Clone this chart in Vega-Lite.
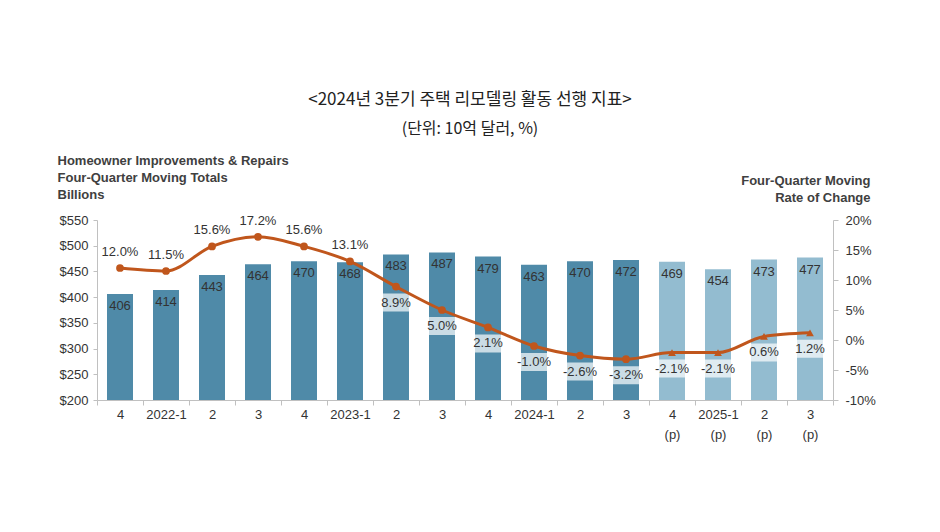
{
  "$schema": "https://vega.github.io/schema/vega-lite/v6.json",
  "width": 736,
  "height": 180,
  "autosize": {"type": "none"},
  "padding": {"left": 97, "top": 220, "right": 107, "bottom": 132},
  "background": "white",
  "title": {
    "text": "<2024년 3분기 주택 리모델링 활동 선행 지표>",
    "subtitle": "(단위: 10억 달러, %)",
    "anchor": "middle",
    "frame": "group",
    "dx": 5,
    "offset": 16,
    "font": "Noto Sans CJK KR",
    "fontSize": 17,
    "fontWeight": "normal",
    "color": "#222222",
    "subtitleFont": "Noto Sans CJK KR",
    "subtitleFontSize": 16,
    "subtitleColor": "#222222",
    "subtitlePadding": 12
  },
  "config": {
    "view": {"stroke": null},
    "font": "Liberation Sans",
    "axis": {
      "labelFont": "Liberation Sans",
      "labelFontSize": 13,
      "labelColor": "#333333",
      "domainColor": "#c0c0c0",
      "tickColor": "#c0c0c0",
      "grid": false
    }
  },
  "data": {
    "values": [
      {"period": "2021-4", "value": 406, "pct": 12.0, "type": "actual"},
      {"period": "2022-1", "value": 414, "pct": 11.5, "type": "actual"},
      {"period": "2022-2", "value": 443, "pct": 15.6, "type": "actual"},
      {"period": "2022-3", "value": 464, "pct": 17.2, "type": "actual"},
      {"period": "2022-4", "value": 470, "pct": 15.6, "type": "actual"},
      {"period": "2023-1", "value": 468, "pct": 13.1, "type": "actual"},
      {"period": "2023-2", "value": 483, "pct": 8.9, "type": "actual"},
      {"period": "2023-3", "value": 487, "pct": 5.0, "type": "actual"},
      {"period": "2023-4", "value": 479, "pct": 2.1, "type": "actual"},
      {"period": "2024-1", "value": 463, "pct": -1.0, "type": "actual"},
      {"period": "2024-2", "value": 470, "pct": -2.6, "type": "actual"},
      {"period": "2024-3", "value": 472, "pct": -3.2, "type": "actual"},
      {"period": "2024-4p", "value": 469, "pct": -2.1, "type": "projected"},
      {"period": "2025-1p", "value": 454, "pct": -2.1, "type": "projected"},
      {"period": "2025-2p", "value": 473, "pct": 0.6, "type": "projected"},
      {"period": "2025-3p", "value": 477, "pct": 1.2, "type": "projected"}
    ]
  },
  "encoding": {
    "x": {
      "field": "period",
      "type": "ordinal",
      "sort": null,
      "scale": {"paddingInner": 0, "paddingOuter": 0},
      "axis": {
        "title": null,
        "orient": "bottom",
        "labelAngle": 0,
        "tickBand": "extent",
        "tickSize": 5,
        "labelPadding": 3,
        "labelLineHeight": 20,
        "labelExpr": "!isString(datum.value) ? '' : (indexof(datum.value,'p')>0 ? [(indexof(datum.value,'-1')>0 ? substring(datum.value,0,6) : substring(datum.value,5,6)), '(p)'] : (indexof(datum.value,'-1')>0 ? datum.value : substring(datum.value,5,6)))"
      }
    }
  },
  "layer": [
    {
      "encoding": {
        "y": {
          "field": "value",
          "type": "quantitative",
          "scale": {"domain": [200, 550], "nice": false},
          "axis": {
            "values": [200, 250, 300, 350, 400, 450, 500, 550],
            "labelExpr": "'$' + datum.value",
            "labelOverlap": false,
            "tickSize": 4,
            "labelPadding": 5,
            "title": ["Homeowner Improvements & Repairs", "Four-Quarter Moving Totals", "Billions"],
            "titleAngle": 0,
            "titleAlign": "left",
            "titleBaseline": "top",
            "titleX": -40,
            "titleY": -66,
            "titleFont": "Liberation Sans",
            "titleFontSize": 13,
            "titleFontWeight": "bold",
            "titleColor": "#404040",
            "titleLineHeight": 17
          }
        }
      },
      "layer": [
        {
          "mark": {"type": "bar", "width": 26, "clip": true},
          "encoding": {
            "color": {
              "field": "type",
              "type": "nominal",
              "scale": {"domain": ["actual", "projected"], "range": ["#4f8aa8", "#93bcd0"]},
              "legend": null
            }
          }
        },
        {
          "mark": {"type": "text", "baseline": "middle", "dy": 12, "fontSize": 13, "color": "#333333", "font": "Liberation Sans"},
          "encoding": {
            "text": {"field": "value", "type": "quantitative"}
          }
        }
      ]
    },
    {
      "transform": [{"calculate": "replace(format(datum.pct, '.1f'), '\u2212', '-') + '%'", "as": "pctText"}],
      "encoding": {
        "y": {
          "field": "pct",
          "type": "quantitative",
          "scale": {"domain": [-10, 20], "nice": false, "zero": false},
          "axis": {
            "orient": "right",
            "values": [-10, -5, 0, 5, 10, 15, 20],
            "labelExpr": "datum.value + '%'",
            "labelOverlap": false,
            "tickSize": 5,
            "labelPadding": 7,
            "title": ["Four-Quarter Moving", "Rate of Change"],
            "titleAngle": 0,
            "titleAlign": "right",
            "titleBaseline": "top",
            "titleX": 37,
            "titleY": -46,
            "titleFont": "Liberation Sans",
            "titleFontSize": 13,
            "titleFontWeight": "bold",
            "titleColor": "#404040",
            "titleLineHeight": 17
          }
        }
      },
      "layer": [
        {
          "transform": [{"filter": "datum.pct < 10"}],
          "mark": {"type": "bar", "width": 34, "yOffset": 7, "y2Offset": 25, "color": "white", "opacity": 0.7},
          "encoding": {
            "y2": {"field": "pct"}
          }
        },
        {
          "mark": {"type": "line", "interpolate": "monotone", "color": "#c0561c", "strokeWidth": 3},
          "encoding": {}
        },
        {
          "mark": {"type": "point", "filled": true, "opacity": 1, "size": 60, "color": "#c0561c"},
          "encoding": {
            "shape": {
              "field": "type",
              "type": "nominal",
              "scale": {"domain": ["actual", "projected"], "range": ["circle", "triangle-up"]},
              "legend": null
            }
          }
        },
        {
          "transform": [{"filter": "datum.pct >= 10"}],
          "mark": {"type": "text", "baseline": "middle", "dy": -16, "fontSize": 13, "color": "#333333", "font": "Liberation Sans"},
          "encoding": {
            "text": {"field": "pctText", "type": "nominal"}
          }
        },
        {
          "transform": [{"filter": "datum.pct < 10"}],
          "mark": {"type": "text", "baseline": "middle", "dy": 16, "fontSize": 13, "color": "#333333", "font": "Liberation Sans"},
          "encoding": {
            "text": {"field": "pctText", "type": "nominal"}
          }
        }
      ]
    }
  ],
  "resolve": {"scale": {"y": "independent", "color": "independent"}}
}
